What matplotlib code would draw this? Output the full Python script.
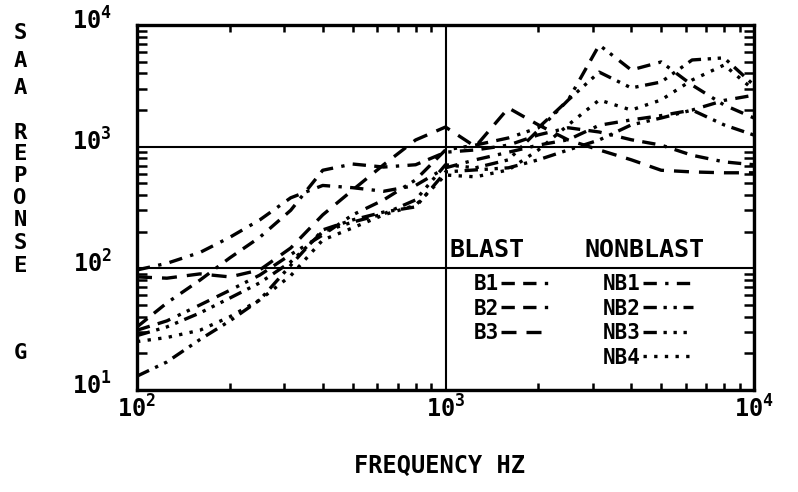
#!/usr/bin/env python3
import matplotlib
matplotlib.use("Agg")
import matplotlib.pyplot as plt
import matplotlib.transforms as mtransforms
import numpy as np
from matplotlib.ticker import LogLocator, LogFormatterMathtext, NullFormatter

plt.rcParams["font.family"] = ["DejaVu Sans Mono", "DejaVu Sans"]
plt.rcParams["font.weight"] = "bold"
plt.rcParams["mathtext.fontset"] = "dejavusans"

# 1/3-octave centre frequencies (Hz)
freq = [100, 125, 160, 200, 250, 315, 400, 500, 630, 800, 1000,
        1250, 1600, 2000, 2500, 3150, 4000, 5000, 6300, 8000, 10000]

# shock response (G) per record
b1 = [33, 52, 80, 122, 180, 300, 640, 720, 680, 710, 900,
      940, 1030, 1250, 1430, 1320, 1140, 1030, 850, 750, 710]
b2 = [31, 37, 50, 66, 88, 130, 188, 275, 365, 533, 940,
      1030, 1180, 1430, 2420, 6850, 4270, 4970, 3210, 2200, 1720]
b3 = [85, 83, 90, 85, 97, 147, 275, 440, 710, 1135, 1450,
      1000, 2080, 1510, 1135, 940, 780, 640, 620, 610, 610]
nb1 = [97, 110, 135, 180, 250, 380, 480, 460, 430, 480, 670,
       780, 900, 1030, 1140, 1500, 1660, 1800, 2000, 2400, 2650]
nb2 = [13, 17, 26, 37, 55, 106, 207, 250, 290, 320, 620,
       644, 670, 780, 940, 1135, 1510, 1720, 2000, 1510, 1245]
nb3 = [28, 33, 43, 57, 76, 113, 200, 240, 280, 365, 710,
       670, 780, 1370, 2420, 4100, 3040, 3400, 5160, 5370, 3200]
nb4 = [25, 27, 31, 40, 55, 87, 171, 215, 275, 330, 585,
       565, 644, 940, 1510, 2420, 2000, 2420, 3530, 4690, 2920]

blast_names = ["B1", "B2", "B3"]
nonblast_names = ["NB1", "NB2", "NB3", "NB4"]

styles = {
    "B1": (0, (4, 2.5, 4, 2.5, 1, 2.5)),
    "B2": (0, (4, 2.5, 4, 2.5, 1, 2, 1, 2.5)),
    "B3": (0, (4.5, 3)),
    "NB1": (0, (4, 2.5, 1, 2.5)),
    "NB2": (0, (4, 2, 1, 2, 1, 2)),
    "NB3": (0, (4, 2, 1, 2, 1, 2, 1, 2)),
    "NB4": (0, (1, 2.2)),
}
series = {"B1": b1, "B2": b2, "B3": b3,
          "NB1": nb1, "NB2": nb2, "NB3": nb3, "NB4": nb4}

W, H = 798, 492
fig = plt.figure(figsize=(W / 100, H / 100), dpi=100)
fig.patch.set_facecolor("white")
x0, x1, y0, y1 = 137, 754, 25, 390
ax = fig.add_axes([x0 / W, 1 - y1 / H, (x1 - x0) / W, (y1 - y0) / H])

handles = {}
for name, vals in series.items():
    (ln,) = ax.plot(freq, vals, color="black", lw=2.4,
                    linestyle=styles[name], label=name)
    handles[name] = ln

ax.set_xscale("log")
ax.set_yscale("log")
ax.set_xlim(100, 10000)
ax.set_ylim(10, 10000)

ax.grid(True, which="major", color="black", lw=1.5)
ax.xaxis.set_major_locator(LogLocator(base=10, numticks=5))
ax.yaxis.set_major_locator(LogLocator(base=10, numticks=5))
ax.xaxis.set_minor_locator(LogLocator(base=10, subs=np.arange(2, 10), numticks=20))
ax.yaxis.set_minor_locator(LogLocator(base=10, subs=np.arange(2, 10), numticks=20))
ax.xaxis.set_major_formatter(LogFormatterMathtext())
ax.yaxis.set_major_formatter(LogFormatterMathtext())
ax.xaxis.set_minor_formatter(NullFormatter())
ax.yaxis.set_minor_formatter(NullFormatter())
ax.tick_params(which="major", length=0, labelsize=17)
ax.tick_params(axis="x", which="major", pad=4)
ax.tick_params(axis="y", which="major", pad=18)
ax.tick_params(axis="x", which="minor", direction="in", length=5, width=1.8,
               top=True)
ax.tick_params(axis="y", which="minor", direction="in", length=7, width=1.8,
               right=True)
for s in ax.spines.values():
    s.set_linewidth(2.4)

# y labels sit a little above their decade lines
lift = mtransforms.ScaledTranslation(0, 5 / 72, fig.dpi_scale_trans)
for lab in ax.get_yticklabels()[1:]:
    lab.set_transform(lab.get_transform() + lift)

# vertical axis title, one letter per line
ylab = [("S", 33), ("A", 61), ("A", 88), ("R", 133), ("E", 154), ("P", 176),
        ("O", 198), ("N", 220), ("S", 243), ("E", 266), ("G", 353)]
for ch, yp in ylab:
    fig.text(20 / W, 1 - yp / H, ch, ha="center", va="center", fontsize=16)

fig.text(440 / W, 1 - 466 / H, "FREQUENCY HZ", ha="center", va="center",
         fontsize=17)

# legend block in the lower-right quadrant
ax.text(0.507, 0.384, "BLAST", transform=ax.transAxes, fontsize=18,
        ha="left", va="center")
ax.text(0.726, 0.384, "NONBLAST", transform=ax.transAxes, fontsize=18,
        ha="left", va="center")
leg_kw = dict(frameon=False, markerfirst=False, fontsize=15,
              handlelength=2.4, handletextpad=0.1, labelspacing=0.22,
              borderaxespad=0, borderpad=0, loc="upper left")
leg1 = ax.legend([handles[n] for n in blast_names], blast_names,
                 bbox_to_anchor=(0.545, 0.318), **leg_kw)
ax.add_artist(leg1)
ax.legend([handles[n] for n in nonblast_names], nonblast_names,
          bbox_to_anchor=(0.755, 0.318), **leg_kw)

fig.savefig("out.png", dpi=100, facecolor="white")
